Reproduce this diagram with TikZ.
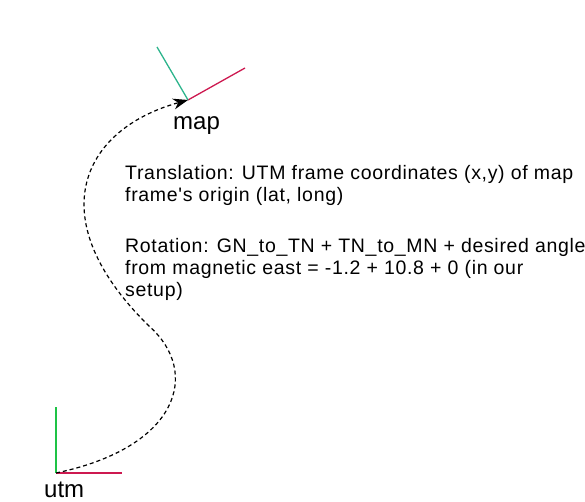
\documentclass[tikz,border=0pt]{standalone}
\usepackage{fontspec}
\setmainfont{Liberation Sans}
\newfontfamily\notefont[LetterSpace=3.5]{Liberation Sans}
\usepackage{tikz}
\usetikzlibrary{arrows.meta}
\definecolor{axisred}{RGB}{205,25,80}
\definecolor{axisgreen}{RGB}{30,195,70}
\definecolor{axisteal}{RGB}{45,180,140}
\tikzset{
  xaxis/.style={draw=axisred, line width=1.3pt},
  yaxis/.style={draw=axisgreen, line width=1.3pt},
  framelabel/.style={anchor=base west, inner sep=0pt,
                     font=\fontsize{24}{28}\selectfont},
  notetext/.style={anchor=base west, inner sep=0pt, align=left,
                   font=\notefont\fontsize{19.5}{22}\selectfont},
  tfarr/.style={-{Stealth[length=15pt, width=11pt]}, line width=1.2pt,
                dash pattern=on 4pt off 3pt},
}
\begin{document}
\begin{tikzpicture}[x=1pt, y=1pt]
\useasboundingbox (0,0) rectangle (585,502);
% ---- utm frame ----
\coordinate (utmorigin) at (56,29);
\draw[xaxis] (utmorigin) -- ++(66,0) coordinate (utmx);
\draw[yaxis] (utmorigin) -- ++(0,66) coordinate (utmy);
\node[framelabel] (utmlabel) at (44,4) {utm};
% ---- map frame (rotated) ----
\coordinate (maporigin) at (188,402);
\draw[xaxis] (maporigin) -- (245,434) coordinate (mapx);
\draw[yaxis, draw=axisteal] (maporigin) -- (157,455) coordinate (mapy);
\node[framelabel] (maplabel) at (173,372) {map};
% ---- transform description (base = last line) ----
\node[notetext] (translation) at (125,300)
  {Translation: UTM frame coordinates (x,y) of map\\
   frame's origin (lat, long)};
\node[notetext] (rotation) at (125,205)
  {Rotation: GN\_to\_TN + TN\_to\_MN + desired angle\\
   from magnetic east = -1.2 + 10.8 + 0 (in our\\
   setup)};
% ---- dashed transform arrow ----
\coordinate (bend) at (150,175);
\draw[tfarr] (utmorigin) .. controls (180,55) and (200,130) .. (bend)
  .. controls (40,282) and (80,372) .. (maporigin);
\end{tikzpicture}
\end{document}
